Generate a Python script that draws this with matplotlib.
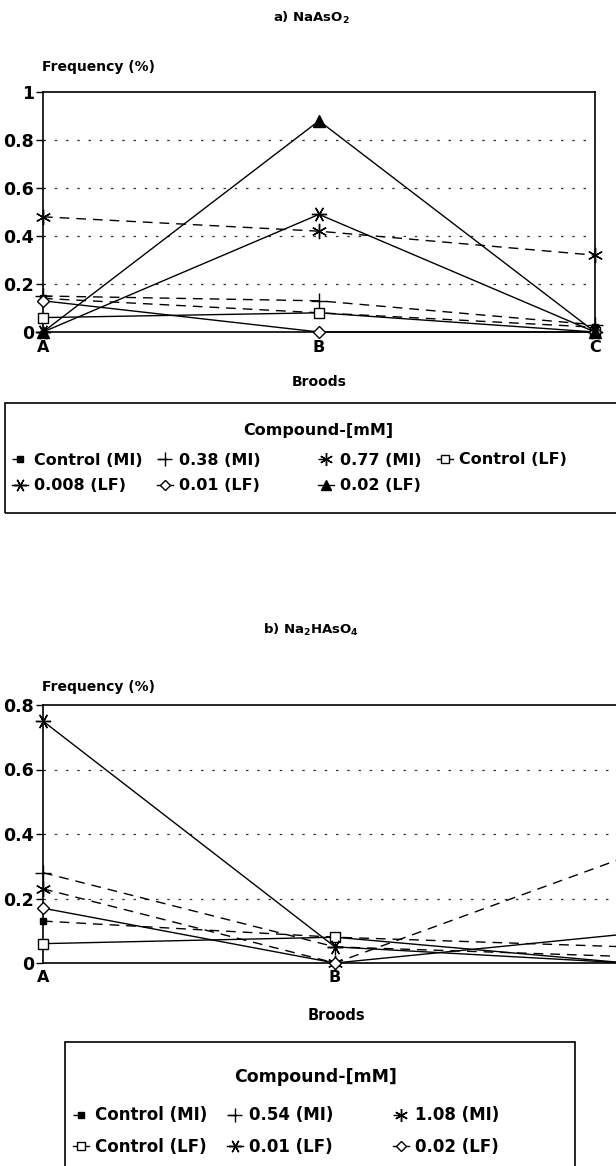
import matplotlib
matplotlib.use('Agg')
import matplotlib.pyplot as plt
from matplotlib.patches import Rectangle

plt.rcParams['font.family'] = ['DejaVu Sans']
plt.rcParams['font.weight'] = 'bold'
plt.rcParams['mathtext.fontset'] = 'custom'
plt.rcParams['mathtext.rm'] = 'DejaVu Sans:bold'
plt.rcParams['mathtext.bf'] = 'DejaVu Sans:bold'

broods = ['A', 'B', 'C']

# a) NaAsO2
a_labels = ['Control (MI)', '0.38 (MI)', '0.77 (MI)', 'Control (LF)',
            '0.008 (LF)', '0.01 (LF)', '0.02 (LF)']
a_ctrl_mi = [0.14, 0.08, 0.02]
a_038_mi = [0.15, 0.13, 0.03]
a_077_mi = [0.48, 0.42, 0.32]
a_ctrl_lf = [0.06, 0.08, 0.0]
a_0008_lf = [0.0, 0.49, 0.0]
a_001_lf = [0.13, 0.0, 0.0]
a_002_lf = [0.0, 0.88, 0.0]

# b) Na2HAsO4
b_labels = ['Control (MI)', '0.54 (MI)', '1.08 (MI)', 'Control (LF)',
            '0.01 (LF)', '0.02 (LF)']
b_ctrl_mi = [0.13, 0.08, 0.05]
b_054_mi = [0.28, 0.05, 0.02]
b_108_mi = [0.23, 0.0, 0.33]
b_ctrl_lf = [0.06, 0.08, 0.0]
b_001_lf = [0.75, 0.05, 0.0]
b_002_lf = [0.17, 0.0, 0.09]

DASH = (0, (7, 5))
# marker, size, facecolor, linestyle
sty = {
    'ctrl_mi': ('s', 5, 'black', DASH),
    'mi_lo': ('+', 12, 'black', DASH),
    'mi_hi': ((6, 2, 0), 11, 'black', DASH),
    'ctrl_lf': ('s', 6.5, 'white', '-'),
    'lf_x': ((6, 2, 90), 11, 'black', '-'),
    'lf_d': ('D', 6, 'white', '-'),
    'lf_t': ('^', 9, 'black', '-'),
}

W, H = 616, 1166
fig = plt.figure(figsize=(W / 100, H / 100), dpi=100)


def px_axes(l, r, t, b):
    return fig.add_axes([l / W, 1 - b / H, (r - l) / W, (b - t) / H])


def style_axes(ax, ymax, ticks, ticklabels, xlabels, xpad):
    ax.set_xlim(0, 2)
    ax.set_ylim(0, ymax)
    ax.set_yticks(ticks)
    ax.set_yticklabels(ticklabels, fontsize=12.5, fontweight='bold')
    ax.set_xticks(range(len(xlabels)))
    ax.set_xticklabels(xlabels, fontsize=11.5, fontweight='bold')
    ax.tick_params(axis='x', length=0, pad=xpad)
    ax.tick_params(axis='y', direction='out', length=5, pad=1.5, width=1)
    for g in ticks[1:]:
        if g < ymax:
            ax.axhline(g, color='#333333', lw=0.9, ls=(0, (2, 7)), zorder=0)
    for s in ax.spines.values():
        s.set_linewidth(1.2)


def draw(ax, key, vals, label):
    m, ms, fc, ls = sty[key]
    ln, = ax.plot([0, 1, 2], vals, ls=ls, color='black', lw=1.0, marker=m,
                  ms=ms, mfc=fc, mec='black', mew=1.0, clip_on=False,
                  label=label, zorder=3)
    return ln


def col_legend(handles, labels, xc, ymid, fs, spacing):
    # one legend per column so every column sits where the reference has it
    hl = 1.0
    xl = xc - hl * fs * 100 / 72 / 2
    fig.legend(handles, labels, loc='center left',
               bbox_to_anchor=(xl / W, 1 - ymid / H), frameon=False,
               prop={'size': fs, 'weight': 'bold'}, handlelength=hl,
               handletextpad=0.35, labelspacing=spacing, borderpad=0,
               borderaxespad=0, markerscale=0.85)


def box(l, r, t, b):
    fig.add_artist(Rectangle((l / W, 1 - b / H), (r - l) / W, (b - t) / H,
                             transform=fig.transFigure, fill=False,
                             lw=1.2, ec='black'))


# ---------- top chart ----------
fig.text(311 / W, 1 - 18 / H, r'a) NaAsO$_2$', ha='center', va='center',
         fontsize=9.5, fontweight='bold')
fig.text(42 / W, 1 - 67 / H, 'Frequency (%)', ha='left', va='center',
         fontsize=10, fontweight='bold')
ax1 = px_axes(43, 595, 92, 332)
style_axes(ax1, 1.0, [0, 0.2, 0.4, 0.6, 0.8, 1.0],
           ['0', '0.2', '0.4', '0.6', '0.8', '1'], broods, 6)
h = [draw(ax1, 'ctrl_mi', a_ctrl_mi, a_labels[0]),
     draw(ax1, 'mi_lo', a_038_mi, a_labels[1]),
     draw(ax1, 'mi_hi', a_077_mi, a_labels[2]),
     draw(ax1, 'ctrl_lf', a_ctrl_lf, a_labels[3]),
     draw(ax1, 'lf_x', a_0008_lf, a_labels[4]),
     draw(ax1, 'lf_d', a_001_lf, a_labels[5]),
     draw(ax1, 'lf_t', a_002_lf, a_labels[6])]
fig.text(319 / W, 1 - 382 / H, 'Broods', ha='center', va='center',
         fontsize=10, fontweight='bold')

box(5, 700, 403, 513)
fig.text(318 / W, 1 - 431 / H, 'Compound-[mM]', ha='center', va='center',
         fontsize=11.5, fontweight='bold')
col_legend([h[0], h[4]], [a_labels[0], a_labels[4]], 20, 473, 11.5, 0.65)
col_legend([h[1], h[5]], [a_labels[1], a_labels[5]], 165, 473, 11.5, 0.65)
col_legend([h[2], h[6]], [a_labels[2], a_labels[6]], 326, 473, 11.5, 0.65)
col_legend([h[3]], [a_labels[3]], 445, 460, 11.5, 0.65)

# ---------- bottom chart (its right end, brood C, falls outside the page) ----------
fig.text(311 / W, 1 - 630 / H, r'b) Na$_2$HAsO$_4$', ha='center', va='center',
         fontsize=9.5, fontweight='bold')
fig.text(42 / W, 1 - 687 / H, 'Frequency (%)', ha='left', va='center',
         fontsize=10, fontweight='bold')
ax2 = px_axes(43, 627, 705, 963)
style_axes(ax2, 0.8, [0, 0.2, 0.4, 0.6, 0.8],
           ['0', '0.2', '0.4', '0.6', '0.8'], broods[:2], 5)
h2 = [draw(ax2, 'ctrl_mi', b_ctrl_mi, b_labels[0]),
      draw(ax2, 'mi_lo', b_054_mi, b_labels[1]),
      draw(ax2, 'mi_hi', b_108_mi, b_labels[2]),
      draw(ax2, 'ctrl_lf', b_ctrl_lf, b_labels[3]),
      draw(ax2, 'lf_x', b_001_lf, b_labels[4]),
      draw(ax2, 'lf_d', b_002_lf, b_labels[5])]
fig.text(336 / W, 1 - 1016 / H, 'Broods', ha='center', va='center',
         fontsize=10.5, fontweight='bold')

box(65, 575, 1042, 1200)
fig.text(316 / W, 1 - 1077 / H, 'Compound-[mM]', ha='center', va='center',
         fontsize=12.5, fontweight='bold')
col_legend([h2[0], h2[3]], [b_labels[0], b_labels[3]], 81, 1131, 12, 0.8)
col_legend([h2[1], h2[4]], [b_labels[1], b_labels[4]], 235, 1131, 12, 0.8)
col_legend([h2[2], h2[5]], [b_labels[2], b_labels[5]], 401, 1131, 12, 0.8)

fig.savefig('out.png', dpi=100)
